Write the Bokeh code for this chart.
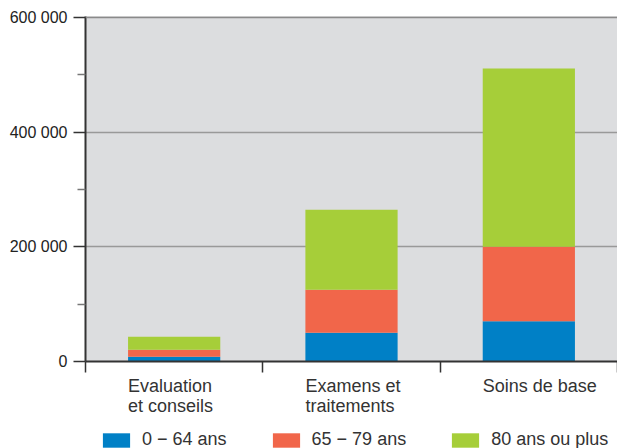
from bokeh.plotting import figure
from bokeh.layouts import column
from bokeh.models import (Range1d, FixedTicker, Legend, LegendItem, Span)
from bokeh.core.properties import value
from bokeh.embed import file_html
from bokeh.resources import INLINE

# ---- data ----
categories = ["Evaluation\net conseils", "Examens et\ntraitements", "Soins de base"]
age_0_64 = [8200, 50000, 70300]
age_65_79 = [12200, 75000, 129700]
age_80_plus = [22600, 139600, 311000]
series_labels = ["0 \u2212 64 ans", "65 \u2212 79 ans", "80 ans ou plus"]
colors = ["#0080c6", "#f1664a", "#a6ce39"]
y_ticks = [0, 200000, 400000, 600000]
y_tick_labels = ["0", "200 000", "400 000", "600 000"]
y_minor_ticks = [100000, 300000, 500000]

FONT = "Liberation Sans"
TXT = "#333333"

n = len(categories)
x_centers = [i + 0.5 for i in range(n)]
bar_width = 0.52
data = dict(x=x_centers, a=age_0_64, b=age_65_79, c=age_80_plus)

# ---------------- main chart ----------------
p = figure(width=617, height=373, output_backend="svg", toolbar_location=None,
           x_range=Range1d(0, n), y_range=Range1d(0, 601500),
           min_border_left=85, min_border_right=0, min_border_top=16,
           min_border_bottom=12)
p.background_fill_color = "#dcdddf"
p.border_fill_color = "white"
p.outline_line_color = None

p.vbar_stack(["a", "b", "c"], x="x", width=bar_width, source=data,
             color=colors, line_color=None)

p.xgrid.visible = False
p.ygrid.ticker = FixedTicker(ticks=[t for t in y_ticks if 0 < t < y_ticks[-1]])
p.ygrid.grid_line_color = "#999999"
p.ygrid.grid_line_width = 1.5
p.add_layout(Span(location=y_ticks[-1], dimension="width", line_color="#8a8a8a", line_width=2))

ya = p.yaxis[0]
ya.ticker = FixedTicker(ticks=y_ticks, minor_ticks=y_minor_ticks)
ya.major_label_overrides = {t: l for t, l in zip(y_ticks, y_tick_labels)}
ya.major_label_text_font = FONT
ya.major_label_text_font_size = "16px"
ya.major_label_text_color = "#222222"
ya.major_label_standoff = 6
ya.axis_line_color = "#333333"
ya.axis_line_width = 2
ya.major_tick_out = 12
ya.major_tick_in = 0
ya.major_tick_line_color = "#333333"
ya.major_tick_line_width = 1.5
ya.minor_tick_out = 8
ya.minor_tick_in = 0
ya.minor_tick_line_color = "#777777"
ya.minor_tick_line_width = 1.5

bounds = list(range(n + 1))
xa = p.xaxis[0]
xa.ticker = FixedTicker(ticks=bounds)
xa.major_label_overrides = {b: "" for b in bounds}
xa.major_label_text_font_size = "0px"
xa.major_label_standoff = 0
xa.axis_line_color = "#333333"
xa.axis_line_width = 2
xa.major_tick_out = 11
xa.major_tick_in = 0
xa.major_tick_line_color = "#333333"
xa.major_tick_line_width = 1.5
xa.minor_tick_line_color = None

# ---------------- category labels + legend strip ----------------
q = figure(width=617, height=75, output_backend="svg", toolbar_location=None,
           x_range=p.x_range, y_range=Range1d(75, 0),
           x_axis_location=None, y_axis_location=None,
           min_border_left=85, min_border_right=0, min_border_top=0,
           min_border_bottom=0)
q.background_fill_color = "white"
q.border_fill_color = "white"
q.outline_line_color = None
q.grid.visible = False

q.text(x=[xc - bar_width / 2 for xc in x_centers], y=[2] * n, text=categories,
       text_align="left", text_baseline="top", text_font=value(FONT),
       text_font_size="18px", text_color=TXT, text_line_height=1.0)

hidden = q.vbar_stack(["a", "b", "c"], x="x", width=bar_width, source=data,
                      color=colors, line_color=None)
for r in hidden:
    r.visible = False

items = [LegendItem(label=lab, renderers=[r]) for lab, r in zip(series_labels, hidden)]
legend = Legend(items=items, orientation="horizontal", location=(14, -2),
                glyph_width=34, glyph_height=18, label_standoff=9, spacing=42,
                padding=0, margin=0, border_line_color=None, background_fill_alpha=0,
                label_text_font=FONT, label_text_font_size="18px",
                label_text_color=TXT, click_policy="none")
q.add_layout(legend)

layout = column(p, q, spacing=0)
open("out.html", "w").write(file_html(layout, INLINE))
